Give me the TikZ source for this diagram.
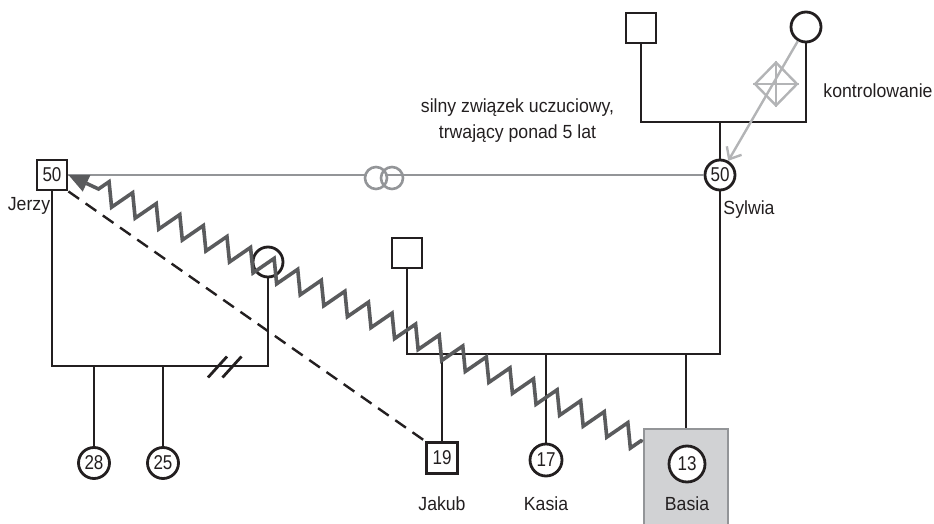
\documentclass[tikz,border=0pt]{standalone}
\usepackage{fontspec}
\setmainfont[FakeStretch=0.93]{Liberation Sans}
\newfontfamily\numfont[FakeStretch=0.85]{Liberation Sans}
\usetikzlibrary{arrows.meta,decorations.pathmorphing,shapes.geometric,calc}
\definecolor{kin}{HTML}{231F20}
\definecolor{rel}{HTML}{939598}
\definecolor{zz}{HTML}{5A5B5D}
\definecolor{ctl}{HTML}{B3B4B6}
\definecolor{boxfill}{HTML}{D1D2D4}
\definecolor{boxline}{HTML}{939598}
\begin{document}
\begin{tikzpicture}[x=1pt,y=-1pt,
  kinline/.style={draw=kin,line width=2.8pt},
  male/.style={rectangle,draw=kin,line width=2.8pt,fill=white,minimum size=30pt,inner sep=0pt,font=\numfont\fontsize{20}{20}\selectfont,text=kin},
  female/.style={circle,draw=kin,line width=2.8pt,fill=white,minimum size=30pt,inner sep=0pt,font=\numfont\fontsize{20}{20}\selectfont,text=kin},
  lbl/.style={font=\fontsize{19}{26}\selectfont,text=kin,inner sep=0pt,anchor=base},
  relline/.style={draw=rel,line width=2.8pt},
  ctlline/.style={draw=ctl,line width=2.4pt},
  zzline/.style={draw=zz,line width=3.6pt,line join=miter}]
\useasboundingbox (0,0) rectangle (934,524);

% grandparents of Sylwia
\node[male] (gpm) at (641,28) {};
\node[female] (gpf) at (806,27) {};
\node[female] (S) at (720,175) {50};
\coordinate (tm) at (720,122);
\draw[kinline] (gpm) |- (tm) -| (gpf);
\draw[kinline] (tm) -- (S);

% control relation
\node[diamond,draw=ctl,line width=2.4pt,minimum width=43pt,minimum height=44pt,inner sep=0pt] (dia) at (776,84) {};
\draw[ctlline] (dia.west) -- (dia.east);
\draw[ctlline] (dia.north) -- (dia.south);
\draw[ctlline,-{Straight Barb[length=10pt,width=17pt,line width=2.4pt]}] (gpf) -- (S);
\node[lbl] (kon) at (878,98) {kontrolowanie};

% Jerzy
\node[male] (J) at (52,175) {50};
\node[lbl] (Jn) at (29,210) {Jerzy};
\node[lbl] (Sn) at (749,214) {Sylwia};

% emotional relation
\draw[relline] (J) -- (S);
\node[circle,draw=rel,line width=2.6pt,fill=white,minimum size=22pt,inner sep=0pt] (o1) at (376,178) {};
\node[circle,draw=rel,line width=2.6pt,minimum size=22pt,inner sep=0pt] (o2) at (392,178) {};
\node[lbl,align=center] (rel) at (517.5,139) {silny związek uczuciowy,\\trwający ponad 5 lat};

% Jerzy's first family
\node[female] (cj) at (268,262) {};
\coordinate (jl) at (52,366);
\coordinate (jr) at (268,366);
\draw[kinline] (J) -- (jl) -- (jr) -- (cj);
\node[female,minimum size=31pt] (c28) at (94,463) {28};
\node[female,minimum size=31pt] (c25) at (163,463) {25};
\draw[kinline] (c28 |- jl) -- (c28);
\draw[kinline] (c25 |- jl) -- (c25);
\coordinate (d1) at (217.5,367);
\coordinate (d2) at (232,367);
\draw[kinline] (d1) ++(-9.5,10.5) -- ++(19,-21);
\draw[kinline] (d2) ++(-9.5,10.5) -- ++(19,-21);

% Sylwia's family
\node[male] (m2) at (407,253) {};
\coordinate (sr) at (720,354);
\draw[kinline] (m2) |- (sr) -- (S);
\node[male,minimum size=31pt] (Jk) at (442,458) {19};
\node[female,minimum size=32pt] (K) at (546,460) {17};
\node[rectangle,draw=boxline,fill=boxfill,line width=2.6pt,minimum width=84pt,minimum height=100pt,inner sep=0pt] (Bx) at (686,479) {};
\node[female,minimum size=36pt] (B) at (687,464) {13};
\draw[kinline] (Jk |- sr) -- (Jk);
\draw[kinline] (K |- sr) -- (K);
\draw[kinline] (Bx.north |- sr) -- (Bx);
\node[lbl] (Jkn) at (442,510) {Jakub};
\node[lbl] (Kn) at (546,510) {Kasia};
\node[lbl] (Bn) at (687,510) {Basia};

% dashed relation
\draw[draw=kin,line width=2.4pt,dash pattern=on 13pt off 8pt] (J.south east) -- (Jk.north west);

% zigzag (hostile) relation
\coordinate (zs) at ([yshift=-14pt]Bx.north west);
\coordinate (za) at ($(J.east)!20pt!(zs)$);
\draw[zzline,decorate,decoration={zigzag,segment length=26pt,amplitude=11pt,pre length=2pt,post length=2pt}] (zs) -- (za);
\draw[zzline,-{Triangle[length=20pt,width=17pt]}] (za) -- (J.east);
\end{tikzpicture}
\end{document}
